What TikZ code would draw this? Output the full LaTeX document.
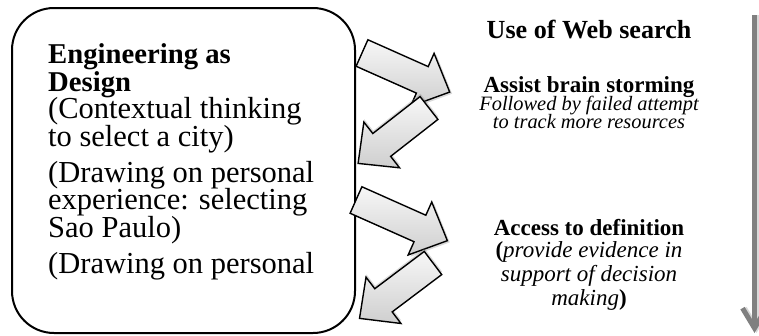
\documentclass[tikz,border=0pt]{standalone}
\usepackage{fontspec}
\setmainfont{Liberation Serif}
\usetikzlibrary{arrows.meta,shadows}

\begin{document}
\begin{tikzpicture}[x=1pt,y=-1pt]
        \tikzstyle{caixa}=[draw=black, line width=2pt, rounded corners=42pt, fill=white]
        \tikzstyle{seta}=[draw=black, line width=1.4pt, top color=gray!6, bottom color=gray!38]
        \tikzstyle{titulo}=[inner sep=0pt, anchor=base, font=\bfseries\fontsize{26.1}{28}\selectfont]
        \tikzstyle{item}=[inner sep=0pt, anchor=base, font=\bfseries\fontsize{23}{25}\selectfont]

        \useasboundingbox (0,0) rectangle (759,335);

        \coordinate (S1) at (362,53);
        \coordinate (S2) at (429,108);
        \coordinate (S3) at (356,200);
        \coordinate (S4) at (433,263);
        \coordinate (T) at (754.5,15);
        \coordinate (F) at (754.5,333);

        \draw[caixa] (12,8) rectangle (355,333);

        \node[anchor=base west, align=left, inner sep=0pt, font={\fontsize{30.5}{27.5}\selectfont\lineskiplimit-40pt\relax}] (design) at (48,273)
          {{\bfseries\fontsize{28.7}{27.5}\selectfont Engineering as}\\{\bfseries\fontsize{28.7}{27.5}\selectfont Design}\\(Contextual thinking\\to select a city)\\[8.5pt](Drawing on personal\\experience: selecting\\Sao Paulo)\\[8.5pt](Drawing on personal};

        \draw[seta, drop shadow={opacity=0.3, shadow xshift=2.4pt, shadow yshift=-1.7pt}, shift={(S1)}, rotate=-24]
          (0,-14.5) -- (66,-14.5) -- (66,-29) -- (96,0) -- (66,29) -- (66,14.5) -- (0,14.5) -- cycle;
        \draw[seta, drop shadow={opacity=0.3, shadow xshift=0.4pt, shadow yshift=2.9pt}, shift={(S2)}, rotate=-142]
          (0,-14.5) -- (60,-14.5) -- (60,-29) -- (90,0) -- (60,29) -- (60,14.5) -- (0,14.5) -- cycle;
        \draw[seta, drop shadow={opacity=0.3, shadow xshift=2.4pt, shadow yshift=-1.7pt}, shift={(S3)}, rotate=-24]
          (0,-14.5) -- (70,-14.5) -- (70,-29) -- (100,0) -- (70,29) -- (70,14.5) -- (0,14.5) -- cycle;
        \draw[seta, drop shadow={opacity=0.3, shadow xshift=0.4pt, shadow yshift=2.9pt}, shift={(S4)}, rotate=-143]
          (0,-14.5) -- (62,-14.5) -- (62,-29) -- (92,0) -- (62,29) -- (62,14.5) -- (0,14.5) -- cycle;

        \node[titulo] (web) at (589,38) {Use of Web search};

        \node[item] (brain) at (589,92) {Assist brain storming};
        \node[anchor=base, align=center, inner sep=0pt, font={\itshape\fontsize{20.4}{18}\selectfont\lineskiplimit-40pt\relax}] (failed) at (589,128)
          {Followed by failed attempt\\to track more resources};

        \node[item] (defin) at (589,235) {Access to definition};
        \node[anchor=base, align=center, inner sep=0pt, font={\itshape\fontsize{23}{24}\selectfont\lineskiplimit-40pt\relax}] (evid) at (589,305)
          {\textbf{\upshape(}provide evidence in\\support of decision\\making\textbf{\upshape)}};

        \draw[line width=5pt, gray!30, -{Straight Barb[length=20pt,width=24pt]}] ([xshift=2pt]T) -- ([xshift=2pt]F);
        \draw[line width=5pt, gray, -{Straight Barb[length=20pt,width=24pt]}] (T) -- (F);
      \end{tikzpicture}
\end{document}
